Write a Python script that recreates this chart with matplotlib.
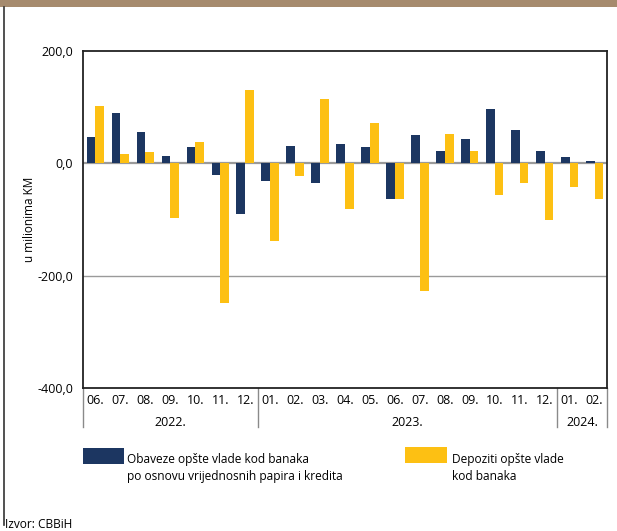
import matplotlib
matplotlib.use("Agg")
import matplotlib.pyplot as plt
import numpy as np
from matplotlib.patches import Rectangle
from matplotlib.lines import Line2D
import matplotlib.transforms as mtransforms

plt.rcParams['font.family'] = ['Open Sans', 'DejaVu Sans']

months = ['06.', '07.', '08.', '09.', '10.', '11.', '12.',
          '01.', '02.', '03.', '04.', '05.', '06.', '07.', '08.', '09.', '10.', '11.', '12.',
          '01.', '02.']
years = ['2022.', '2023.', '2024.']
year_spans = [(0, 6), (7, 18), (19, 20)]

obaveze = [46.6, 89.7, 56.0, 13.0, 28.3, -20.0, -90.3,
           -31.9, 31.3, -35.4, 34.8, 28.3, -63.1, 49.6, 22.4, 43.7, 96.2, 59.6, 21.8,
           10.6, 3.5]
depoziti = [102.7, 15.9, 19.5, -97.4, 37.8, -247.8, 130.4,
            -137.5, -23.0, 115.0, -82.0, 72.0, -63.1, -226.6, 53.1, 22.4, -57.2, -35.4, -100.3,
            -41.9, -63.1]

navy = '#1c3661'
yellow = '#fdc013'

W, H = 617, 531
fig = plt.figure(figsize=(W / 100, H / 100), dpi=100)

# top bar and left border
fig.patches.append(Rectangle((0, 1 - 7 / H), 1, 7 / H, transform=fig.transFigure,
                             facecolor='#a68b6e', edgecolor='none'))
fig.add_artist(Line2D([3.5 / W, 3.5 / W], [1 - 7 / H, 1 - 525 / H], transform=fig.transFigure,
                      color='#333333', lw=1.2))

ax = fig.add_axes([83 / W, 1 - 388 / H, (607 - 83) / W, (388 - 51) / H])
x = np.arange(len(months))
ax.bar(x - 0.175, obaveze, 0.35, color=navy, zorder=3)
ax.bar(x + 0.175, depoziti, 0.35, color=yellow, zorder=3)

ax.set_xlim(-0.5, len(months) - 0.5)
ax.set_ylim(-400, 200)
ax.set_yticks([-400, -200, 0, 200])
ax.set_yticklabels(['-400,0', '-200,0', '0,0', '200,0'], fontsize=9)
ax.tick_params(axis='y', length=0, pad=7)
ax.set_xticks(x)
ax.set_xticklabels(months, fontsize=9)
ax.tick_params(axis='x', length=0, pad=4)

ax.axhline(0, color='#9a9a9a', lw=1.6, zorder=2)
ax.axhline(-200, color='#9a9a9a', lw=1.0, zorder=2)
for s in ax.spines.values():
    s.set_color('#222222')
    s.set_linewidth(1.3)

ax.set_ylabel('u milionima KM', fontsize=8.5)
ax.yaxis.set_label_coords(-(83 - 36) / (607 - 83), 0.5)

trans = mtransforms.blended_transform_factory(ax.transData, ax.transAxes)
for yr, (a, b) in zip(years, year_spans):
    ax.text((a + b) / 2, -(423 - 388) / 337, yr, transform=trans, ha='center', va='center',
            fontsize=9)
for xs in [-0.5, 6.5, 18.5, 20.5]:
    ax.add_artist(Line2D([xs, xs], [0, -(427 - 388) / 337], transform=trans, color='#8a8a8a',
                         lw=1.0, clip_on=False))

# legend
fig.patches.append(Rectangle((83 / W, 1 - 464 / H), 41 / W, 16 / H, transform=fig.transFigure,
                             facecolor=navy, edgecolor='none'))
fig.text(127 / W, 1 - 468 / H, 'Obaveze opšte vlade kod banaka\npo osnovu vrijednosnih papira i kredita',
         fontsize=8.6, va='center', ha='left', linespacing=1.4)
fig.patches.append(Rectangle((405 / W, 1 - 463 / H), 42 / W, 16 / H, transform=fig.transFigure,
                             facecolor=yellow, edgecolor='none'))
fig.text(452 / W, 1 - 468 / H, 'Depoziti opšte vlade\nkod banaka',
         fontsize=8.6, va='center', ha='left', linespacing=1.4)

fig.text(5 / W, 1 - 524 / H, 'Izvor: CBBiH', fontsize=8.6, va='center', ha='left')

fig.savefig('out.png', dpi=100)
